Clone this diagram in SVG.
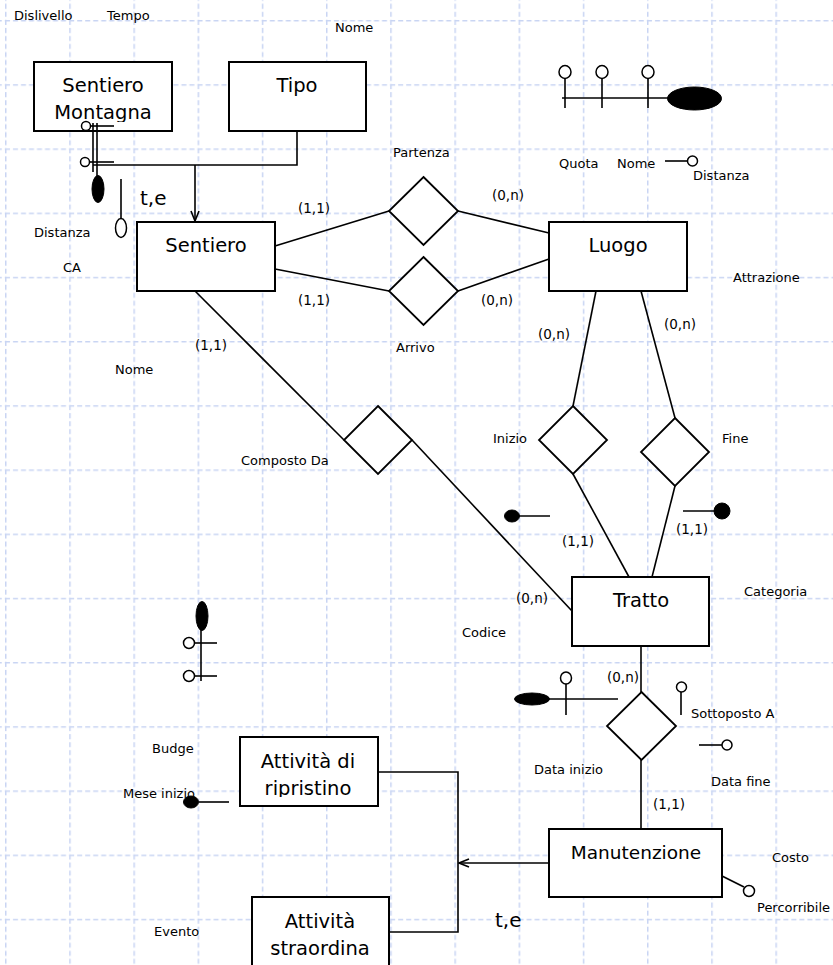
<svg xmlns="http://www.w3.org/2000/svg" width="833" height="965" viewBox="0 0 833 965">
<defs>
  <pattern id="grid" x="5" y="20" width="64.2" height="64.2" patternUnits="userSpaceOnUse">
    <line x1="0" y1="0.75" x2="64.2" y2="0.75" class="g"/>
    <line x1="0.75" y1="0" x2="0.75" y2="64.2" class="g"/>
  </pattern>
  <marker id="arr" viewBox="0 0 12 10" refX="11" refY="5" markerWidth="12" markerHeight="10" markerUnits="userSpaceOnUse" orient="auto">
    <path d="M1,1 L11,5 L1,9" fill="none" stroke="#000" stroke-width="1.6"/>
  </marker>
  <clipPath id="clipSM"><rect x="34" y="62" width="138" height="60"/></clipPath>
  <clipPath id="clipAR"><rect x="240" y="737" width="138" height="60"/></clipPath>
</defs>
<style>
  .g{stroke:#c9d5f3;stroke-width:1.5;stroke-dasharray:5 3}
  .box{fill:#fff;stroke:#000;stroke-width:2}
  .rel{fill:#fff;stroke:#000;stroke-width:1.8}
  .ln{fill:none;stroke:#000;stroke-width:1.6}
  .big{font-family:"DejaVu Sans",Verdana,sans-serif;font-size:19.5px;text-anchor:middle;fill:#000}
  .lbl{font-family:"DejaVu Sans",Verdana,sans-serif;font-size:13px;fill:#000}
  .card{font-family:"DejaVu Sans",Verdana,sans-serif;font-size:13.5px;fill:#000}
  .te{font-family:"DejaVu Sans",Verdana,sans-serif;font-size:20px;fill:#000}
  .oc{fill:#fff;stroke:#000;stroke-width:1.5}
  .fc{fill:#000;stroke:#000;stroke-width:1}
</style>
<rect width="833" height="965" fill="#fff"/>
<rect width="833" height="965" fill="url(#grid)"/>

<g id="connectors">
  <path class="ln" d="M297,131 V165 H93"/>
  <path class="ln" d="M195,165 V221" marker-end="url(#arr)"/>
  <path class="ln" d="M275,246 L389,211"/>
  <path class="ln" d="M458,211 L549,233"/>
  <path class="ln" d="M275,269 L389,291"/>
  <path class="ln" d="M458,291 L549,259"/>
  <path class="ln" d="M195,291 L344,440"/>
  <path class="ln" d="M412,440 L572,611"/>
  <path class="ln" d="M596,291 L573,406"/>
  <path class="ln" d="M573,474 L629,577"/>
  <path class="ln" d="M641,291 L675,418"/>
  <path class="ln" d="M675,486 L652,577"/>
  <path class="ln" d="M641,646 V692"/>
  <path class="ln" d="M641,760 V829"/>
  <path class="ln" d="M549,863 H459" marker-end="url(#arr)"/>
  <path class="ln" d="M378,772 H458 V932 H389"/>
</g>

<g id="sentiero-montagna">
  <rect class="box" x="34" y="62" width="138" height="69"/>
  <g clip-path="url(#clipSM)">
    <text class="big" x="103" y="92">Sentiero</text>
    <text class="big" x="103" y="119">Montagna</text>
  </g>
</g>
<g id="tipo">
  <rect class="box" x="229" y="62" width="137" height="69"/>
  <text class="big" x="297" y="92">Tipo</text>
</g>
<g id="sentiero">
  <rect class="box" x="137" y="222" width="138" height="69"/>
  <text class="big" x="206" y="252">Sentiero</text>
</g>
<g id="luogo">
  <rect class="box" x="549" y="222" width="138" height="69"/>
  <text class="big" x="618" y="252">Luogo</text>
</g>
<g id="tratto">
  <rect class="box" x="572" y="577" width="137" height="69"/>
  <text class="big" x="641" y="607">Tratto</text>
</g>
<g id="manutenzione">
  <rect class="box" x="549" y="829" width="173" height="68"/>
  <text class="big" x="636" y="859" style="font-size:18.5px">Manutenzione</text>
</g>
<g id="attivita-ripristino">
  <rect class="box" x="240" y="737" width="138" height="69"/>
  <g clip-path="url(#clipAR)">
    <text class="big" x="308" y="768">Attività di</text>
    <text class="big" x="308" y="795">ripristino</text>
  </g>
</g>
<g id="attivita-straordina">
  <rect class="box" x="252" y="897" width="137" height="80"/>
  <text class="big" x="320" y="928">Attività</text>
  <text class="big" x="320" y="955">straordina</text>
</g>

<g id="partenza"><path class="rel" d="M423.5,177 L458,211 L423.5,245 L389,211 Z"/></g>
<g id="arrivo"><path class="rel" d="M423.5,257 L458,291 L423.5,325 L389,291 Z"/></g>
<g id="composto-da"><path class="rel" d="M378,406 L412,440 L378,474 L344,440 Z"/></g>
<g id="inizio"><path class="rel" d="M573,406 L607,440 L573,474 L539,440 Z"/></g>
<g id="fine"><path class="rel" d="M675,418 L709,452 L675,486 L641,452 Z"/></g>
<g id="sottoposto-a"><path class="rel" d="M641.5,692 L676,726 L641.5,760 L607,726 Z"/></g>

<g id="attribute-symbols">
  <line class="ln" x1="89" y1="126" x2="114" y2="126"/>
  <line class="ln" x1="89" y1="162" x2="114" y2="162"/>
  <line class="ln" x1="93" y1="123" x2="93" y2="172"/>
  <line class="ln" x1="97" y1="123" x2="97" y2="178"/>
  <circle class="oc" cx="86" cy="126" r="4.5"/>
  <circle class="oc" cx="85" cy="162" r="4.5"/>
  <ellipse class="fc" cx="98" cy="189" rx="6" ry="13.5"/>
  <line class="ln" x1="121" y1="179" x2="121" y2="218"/>
  <ellipse class="oc" cx="121" cy="228" rx="5.5" ry="9.5"/>

  <line class="ln" x1="562" y1="98" x2="668" y2="98"/>
  <line class="ln" x1="565" y1="78" x2="565" y2="108"/>
  <line class="ln" x1="602" y1="78" x2="602" y2="108"/>
  <line class="ln" x1="648" y1="78" x2="648" y2="108"/>
  <ellipse class="oc" cx="565" cy="72" rx="6" ry="6.5"/>
  <ellipse class="oc" cx="602" cy="72" rx="6" ry="6.5"/>
  <ellipse class="oc" cx="648" cy="72" rx="6" ry="6.5"/>
  <ellipse class="fc" cx="694.5" cy="98.5" rx="27" ry="11.5"/>

  <line class="ln" x1="665" y1="161" x2="688" y2="161"/>
  <circle class="oc" cx="692.5" cy="161" r="5"/>

  <line class="ln" x1="512" y1="516" x2="550" y2="516"/>
  <ellipse class="fc" cx="512" cy="516" rx="7.5" ry="6"/>
  <line class="ln" x1="683" y1="511" x2="720" y2="511"/>
  <circle class="fc" cx="722" cy="511" r="8"/>

  <line class="ln" x1="201" y1="628" x2="201" y2="681"/>
  <line class="ln" x1="195" y1="643" x2="217" y2="643"/>
  <line class="ln" x1="195" y1="676" x2="217" y2="676"/>
  <ellipse class="fc" cx="202" cy="616" rx="6" ry="14.5"/>
  <circle class="oc" cx="189" cy="643" r="5.5"/>
  <circle class="oc" cx="189" cy="676" r="5.5"/>

  <line class="ln" x1="548" y1="699" x2="618" y2="699"/>
  <line class="ln" x1="566" y1="684" x2="566" y2="715"/>
  <ellipse class="fc" cx="532" cy="699" rx="17.5" ry="6"/>
  <ellipse class="oc" cx="566" cy="678" rx="5.5" ry="6"/>
  <line class="ln" x1="681" y1="692" x2="681" y2="715"/>
  <circle class="oc" cx="681.5" cy="687" r="5"/>
  <line class="ln" x1="699" y1="745" x2="722" y2="745"/>
  <circle class="oc" cx="727" cy="745" r="5"/>

  <line class="ln" x1="199" y1="802" x2="229" y2="802"/>
  <ellipse class="fc" cx="191" cy="802" rx="7.5" ry="6"/>

  <line class="ln" x1="722" y1="876" x2="744" y2="887"/>
  <circle class="oc" cx="749" cy="891" r="5.5"/>
</g>

<g id="labels">
  <text class="lbl" x="14" y="20">Dislivello</text>
  <text class="lbl" x="107" y="20">Tempo</text>
  <text class="lbl" x="335" y="32">Nome</text>
  <text class="lbl" x="393" y="157">Partenza</text>
  <text class="lbl" x="559" y="168">Quota</text>
  <text class="lbl" x="617" y="168">Nome</text>
  <text class="lbl" x="693" y="180">Distanza</text>
  <text class="te" x="140" y="205">t,e</text>
  <text class="lbl" x="34" y="237">Distanza</text>
  <text class="lbl" x="63" y="272">CA</text>
  <text class="card" x="298" y="213">(1,1)</text>
  <text class="card" x="492" y="200">(0,n)</text>
  <text class="card" x="298" y="305">(1,1)</text>
  <text class="card" x="481" y="305">(0,n)</text>
  <text class="lbl" x="733" y="282">Attrazione</text>
  <text class="lbl" x="396" y="352">Arrivo</text>
  <text class="card" x="195" y="350">(1,1)</text>
  <text class="lbl" x="115" y="374">Nome</text>
  <text class="card" x="538" y="339">(0,n)</text>
  <text class="card" x="664" y="329">(0,n)</text>
  <text class="lbl" x="493" y="443">Inizio</text>
  <text class="lbl" x="722" y="443">Fine</text>
  <text class="lbl" x="241" y="465">Composto Da</text>
  <text class="card" x="562" y="546">(1,1)</text>
  <text class="card" x="676" y="534">(1,1)</text>
  <text class="lbl" x="744" y="596">Categoria</text>
  <text class="card" x="516" y="603">(0,n)</text>
  <text class="lbl" x="462" y="637">Codice</text>
  <text class="card" x="607" y="682">(0,n)</text>
  <text class="lbl" x="691" y="718">Sottoposto A</text>
  <text class="lbl" x="152" y="753">Budge</text>
  <text class="lbl" x="534" y="774">Data inizio</text>
  <text class="lbl" x="711" y="786">Data fine</text>
  <text class="lbl" x="123" y="798">Mese inizio</text>
  <text class="card" x="653" y="809">(1,1)</text>
  <text class="lbl" x="772" y="862">Costo</text>
  <text class="lbl" x="757" y="912">Percorribile</text>
  <text class="te" x="495" y="927">t,e</text>
  <text class="lbl" x="154" y="936">Evento</text>
</g>
</svg>
